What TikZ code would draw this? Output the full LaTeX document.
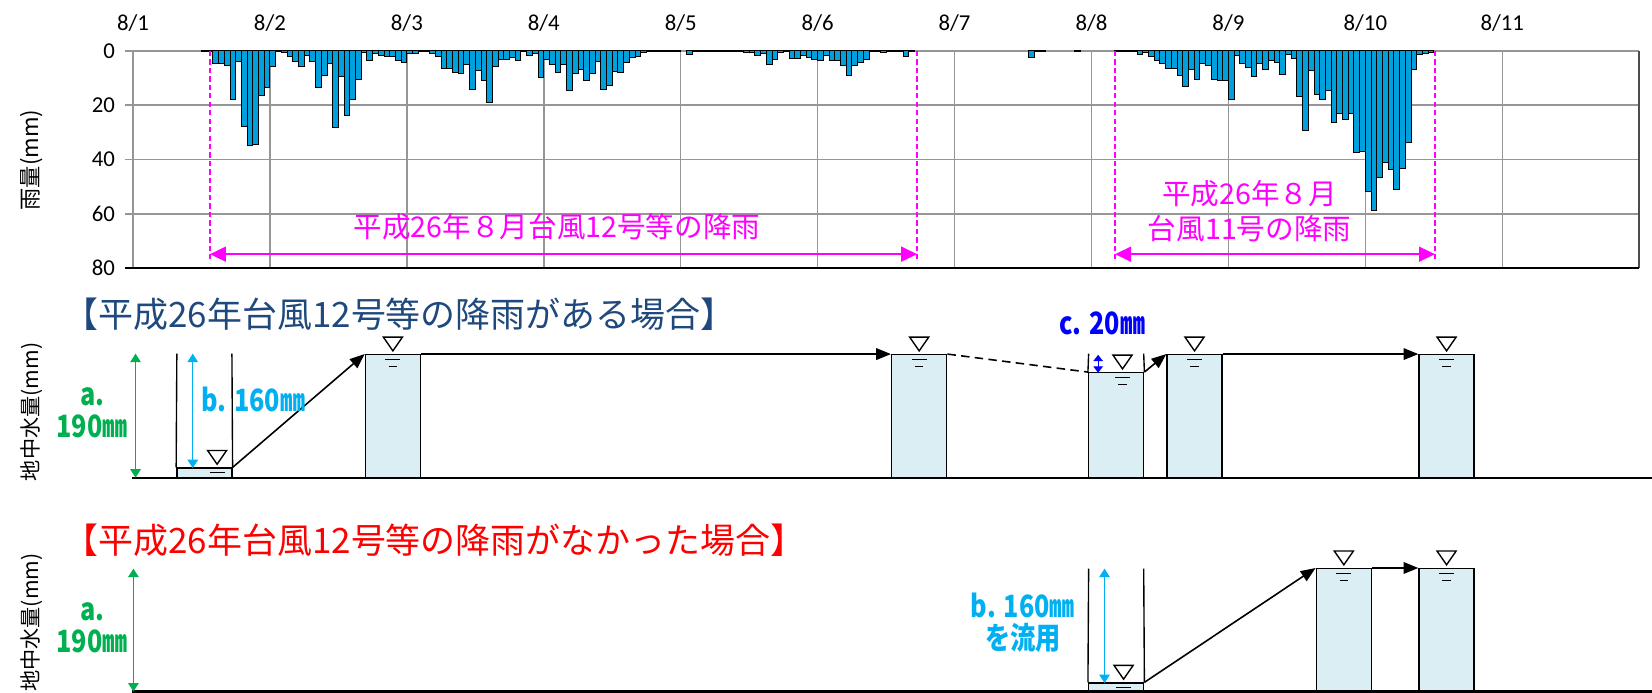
\documentclass[tikz,border=0pt]{standalone}
\usepackage{fontspec}
\setmainfont{Noto Sans CJK JP}
\newfontfamily\chartfont{Carlito}
\usetikzlibrary{arrows.meta}
\definecolor{rainblue}{RGB}{0,160,220}
\definecolor{tankblue}{RGB}{218,238,243}
\definecolor{titleblue}{RGB}{31,73,125}
\definecolor{agreen}{RGB}{0,176,80}
\definecolor{bcyan}{RGB}{0,176,240}
\definecolor{gridgray}{RGB}{150,150,150}
\definecolor{pink}{RGB}{255,0,255}
\newcommand{\narrow}[1]{\scalebox{0.82}[1]{#1}}

\tikzset{
  lvl/.pic={\draw[line width=1.3] (-9,-16) -- (9,-16) -- (0,-3) -- cycle;
            \draw[line width=1.3] (-7,5) -- (7,5);},
  lvldeep/.pic={\pic {lvl}; \draw[line width=1.3] (-4,12) -- (4,12);}
}

\begin{document}
\begin{tikzpicture}[x=1pt,y=-1pt,
  gridline/.style={draw=gridgray, line width=1.4},
  rainbar/.style={fill=rainblue, draw=black, line width=0.9},
  rng/.style={draw=pink, line width=1.5, dash pattern=on 5pt off 3pt},
  rainspan/.style={pink, line width=2, {Triangle[length=15pt,width=14pt]}-{Triangle[length=15pt,width=14pt]}},
  tank/.style={draw, fill=tankblue, line width=1.3, minimum width=52pt, inner sep=0pt},
  flowarrow/.style={line width=1.5, -{Triangle[length=14pt,width=11pt]}},
  dimarrow/.style={line width=1.1, {Triangle[length=8pt,width=10pt]}-{Triangle[length=8pt,width=10pt]}},
  groundline/.style={line width=2},
  lab/.style={font=\bfseries\fontsize{29}{30}\selectfont, align=center, inner sep=0pt}
]
\useasboundingbox (0,0) rectangle (1560,654.4);

% rain chart
\foreach \v in {0,20,40,60}
  \draw[gridline] (118,{48+2.565*\v}) -- (1547.9,{48+2.565*\v});
\foreach \d in {0,...,10}
  \draw[gridline] ({125.6+129.3*\d},48) -- ({125.6+129.3*\d},253.2);
\draw[draw=black!70, line width=1.4] (1547.9,48) -- (1547.9,253.2);

\foreach \r [count=\h from 0] in {
  0,0,0,0,0,0,0,0,0,0,0,0,0.3,0.3,4.7,4.7,5.3,17.9,4,27.7,35,34.4,16.6,13.5,
  5.6,0.4,0.6,2.2,4,5.9,1.6,4,13.5,9,4.7,28.3,9.3,23.7,17.8,10.4,0.6,3.7,1,1.6,2,2,3.7,4.4,
  1,1,0.4,0.4,1,2,6.5,6.5,8.1,8.3,4.9,14.2,7.4,11,19,5.9,3.2,3.2,2.5,3.7,0.4,1.8,1,9.8,
  3.2,4.9,8.1,4.9,14.5,8.3,6.9,10.8,8.3,4,14.2,12.6,7.7,8.1,4.4,2.5,2,0.7,0.4,0.25,0.15,0.15,0.15,0.15,
  0,1.2,0.2,0.2,0.2,0.2,0.2,0.2,0.2,0.2,0.3,0.5,0.7,1.7,1,4.9,3.2,0.7,0.4,2.8,2.8,1.6,2.5,3.2,
  3.4,1.6,3.4,3.4,5.3,9,5.3,4.2,3.2,0.3,0.3,0.6,0.3,0.3,0.3,2.2,0.3,0,0,0,0,0,0,0,
  0,0,0,0,0,0,0,0,0,0,0,0,0,2.6,0.3,0.3,0,0,0,0,0,0.2,0,0,
  0,0,0,0,0.3,0.3,0.3,0.3,1.2,0.7,2,3.4,4.7,6.5,6.5,9,13.3,6.9,10.6,4.7,5.5,10.6,11,10.8,
  18,1.6,4.7,6.1,9.6,4.7,6.9,3.7,4.4,8.6,1.2,2.8,16.7,29.2,7.4,16.1,17.8,14.7,26.5,22.9,25.2,23.1,37.5,37.2,
  51.7,58.7,46.7,41.2,43.7,51,43.4,33.8,6.8,1.4,1,0.6}
  {\ifdim \r pt>0pt \filldraw[rainbar] ({125.6+5.3875*\h},48) rectangle ++(5.3875,{2.565*\r}); \fi}

\draw[line width=2] (118,253.2) -- (1547.9,253.2);

\foreach \d [count=\i] in {0,...,10}
  \node[font=\chartfont\fontsize{21.5}{24}\selectfont] (day\i) at ({125.6+129.3*\d},22) {8/\i};
\foreach \v in {0,20,40,60,80}
  \node[anchor=east, font=\chartfont\fontsize{21.5}{24}\selectfont] (tick\v) at (112,{48+2.565*\v}) {\v};
\node[rotate=90, font=\fontsize{21}{24}\selectfont] (rainlab) at (30,151) {雨量(mm)};

\draw[rng] (198.3,48) -- (198.3,248);
\draw[rng] (866,48) -- (866,248);
\draw[rng] (1053,48) -- (1053,248);
\draw[rng] (1355,48) -- (1355,248);
\coordinate (s1) at (198.3,240);
\coordinate (e1) at (866,240);
\coordinate (s2) at (1053,240);
\coordinate (e2) at (1355,240);
\draw[rainspan] (s1) -- (e1);
\draw[rainspan] (s2) -- (e2);
\node[text=pink, font=\fontsize{27}{33}\selectfont] (rain12) at (526,214) {平成26年８月台風12号等の降雨};
\node[text=pink, font=\fontsize{27}{33}\selectfont, align=center] (rain11) at (1180,199) {平成26年８月\\台風11号の降雨};

% with rain of typhoon 12
\node[anchor=west, inner sep=0pt, text=titleblue, font=\fontsize{33}{36}\selectfont] (title1) at (60,297) {【平成26年台風12号等の降雨がある場合】};
\node[rotate=90, font=\fontsize{20}{22}\selectfont] (ylab1) at (30,389) {地中水量(mm)};

\node[tank, minimum height=9pt] (w1) at (193,446.5) {};
\node[tank, minimum height=116pt] (t2) at (371,393) {};
\node[tank, minimum height=116pt] (t3) at (868,393) {};
\node[tank, minimum height=99pt] (w4) at (1054,401.5) {};
\node[tank, minimum height=116pt] (t5) at (1128,393) {};
\node[tank, minimum height=116pt] (t6) at (1366,393) {};
\draw[line width=1.3] (167,334) -- (w1.north west) (219,334) -- (w1.north east);
\draw[line width=1.3] (1028,334) -- (w4.north west) (1080,334) -- (w4.north east);
\draw[groundline] (125,451) -- (1560,451);

\draw[flowarrow] (w1.north east) -- (t2.north west);
\draw[flowarrow] (t2.north east) -- (t3.north west);
\draw[line width=1.5, dash pattern=on 8pt off 5pt] (t3.north east) -- (w4.north west);
\draw[flowarrow] (w4.north east) -- (t5.north west);
\draw[flowarrow] (t5.north east) -- (t6.north west);

\pic at (w1.north -| 205,0) {lvl};
\pic at (t2.north) {lvldeep};
\pic at (t3.north) {lvldeep};
\pic at (w4.north -| 1060,0) {lvldeep};
\pic at (t5.north) {lvldeep};
\pic at (t6.north) {lvldeep};

\coordinate (a1top) at (128,334);
\coordinate (a1bot) at (128,451);
\draw[dimarrow, agreen] (a1top) -- (a1bot);
\node[lab, text=agreen] (alab1) at (87,390) {\narrow{a.}\\\narrow{190㎜}};
\coordinate (b1top) at (182,334);
\coordinate (b1bot) at (182,442);
\draw[dimarrow, bcyan] (b1top) -- (b1bot);
\node[lab, text=bcyan, anchor=west] (blab1) at (190,377) {\narrow{b. 160㎜}};
\coordinate (c1top) at (1037,335);
\coordinate (c1bot) at (1037,352);
\draw[line width=1.1, blue, {Triangle[length=6pt,width=9pt]}-{Triangle[length=6pt,width=9pt]}] (c1top) -- (c1bot);
\node[lab, text=blue] (clab) at (1041,305) {\narrow{c. 20㎜}};

% without rain of typhoon 12
\node[anchor=west, inner sep=0pt, text=red, font=\fontsize{33}{36}\selectfont] (title2) at (60,510) {【平成26年台風12号等の降雨がなかった場合】};
\node[rotate=90, font=\fontsize{20}{22}\selectfont] (ylab2) at (30,588) {地中水量(mm)};

\node[tank, minimum height=8pt] (v1) at (1054,649) {};
\node[tank, minimum height=116pt] (u2) at (1269,595) {};
\node[tank, minimum height=116pt] (u3) at (1366,595) {};
\draw[line width=1.3] (1028,537) -- (v1.north west) (1080,537) -- (v1.north east);
\draw[groundline] (125,653) -- (1560,653);

\draw[flowarrow] (v1.north east) -- (u2.north west);
\draw[flowarrow] (u2.north east) -- (u3.north west);

\pic at (v1.north -| 1061,0) {lvl};
\pic at (u2.north) {lvldeep};
\pic at (u3.north) {lvldeep};

\coordinate (a2top) at (126,537);
\coordinate (a2bot) at (126,653);
\draw[dimarrow, agreen] (a2top) -- (a2bot);
\node[lab, text=agreen] (alab2) at (87,593) {\narrow{a.}\\\narrow{190㎜}};
\coordinate (b2top) at (1043,537);
\coordinate (b2bot) at (1043,645);
\draw[dimarrow, bcyan] (b2top) -- (b2bot);
\node[lab, text=bcyan] (blab2) at (966,588) {\narrow{b. 160㎜}\\\narrow{を流用}};
\end{tikzpicture}
\end{document}
